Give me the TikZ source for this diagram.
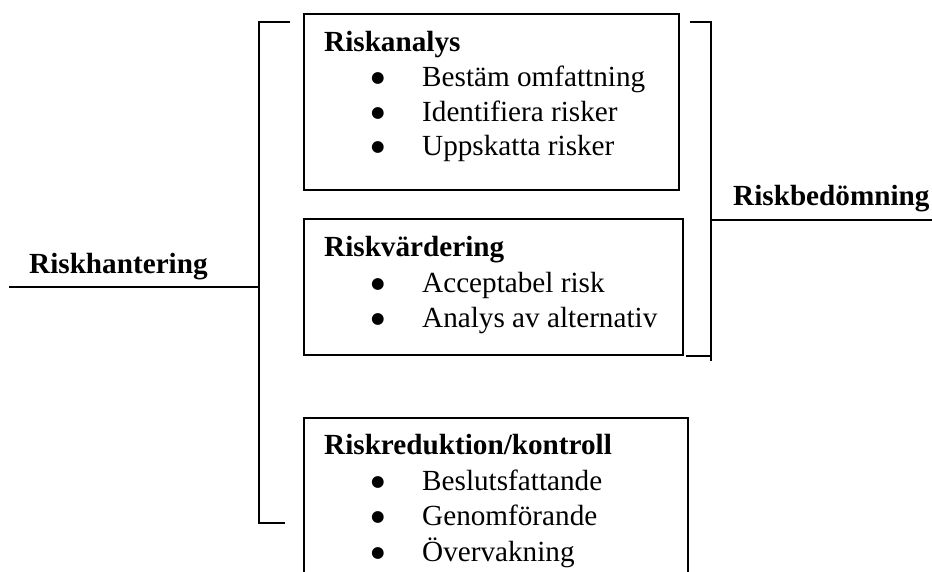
\documentclass[tikz,border=0pt]{standalone}
\usepackage{fontspec}
\setmainfont{Liberation Serif}
\newfontfamily\dotfont{DejaVu Sans}
\begin{document}
\begin{tikzpicture}[x=1pt,y=-1pt]
\tikzset{
  boxstyle/.style={draw, line width=1.6pt, inner sep=0pt, anchor=north west},
  headtxt/.style={anchor=base west, inner sep=0pt, font=\fontsize{29.2}{35}\selectfont\bfseries},
  itemtxt/.style={anchor=base west, inner sep=0pt, font=\fontsize{29.2}{35}\selectfont},
  bul/.style={anchor=base, inner sep=0pt, yshift=3.3pt, font=\dotfont\fontsize{15.5}{17}\selectfont},
  lin/.style={line width=1.6pt}
}
\clip (0,0) rectangle (932,571);
\useasboundingbox (0,0) rectangle (932,571);
% boxes
\node[boxstyle, minimum width=375pt, minimum height=176pt] (b1) at (303,13) {};
\node[boxstyle, minimum width=379pt, minimum height=136pt] (b2) at (303,218) {};
\node[boxstyle, minimum width=384pt, minimum height=180pt] (b3) at (303,417) {};
% box 1 text
\node[headtxt] (h1) at (324,51) {Riskanalys};
\node[bul] (p11) at (378,86) {●};
\node[itemtxt] (t11) at (422,86) {Bestäm omfattning};
\node[bul] (p12) at (378,121) {●};
\node[itemtxt] (t12) at (422,121) {Identifiera risker};
\node[bul] (p13) at (378,155) {●};
\node[itemtxt] (t13) at (422,155) {Uppskatta risker};
% box 2 text
\node[headtxt] (h2) at (324,256) {Riskvärdering};
\node[bul] (p21) at (378,292) {●};
\node[itemtxt] (t21) at (422,292) {Acceptabel risk};
\node[bul] (p22) at (378,327) {●};
\node[itemtxt] (t22) at (422,327) {Analys av alternativ};
% box 3 text
\node[headtxt] (h3) at (324,454) {Riskreduktion/kontroll};
\node[bul] (p31) at (378,490) {●};
\node[itemtxt] (t31) at (422,490) {Beslutsfattande};
\node[bul] (p32) at (378,525) {●};
\node[itemtxt] (t32) at (422,525) {Genomförande};
\node[bul] (p33) at (378,561) {●};
\node[itemtxt] (t33) at (422,561) {Övervakning};
% labels
\node[headtxt] (lh) at (29,273) {Riskhantering};
\node[headtxt] (lr) at (733,205) {Riskbedömning};
% left bracket
\coordinate (lt) at (259,22);
\coordinate (ltt) at (290,22);
\coordinate (lb) at (259,523);
\coordinate (lbb) at (285,523);
\coordinate (lm) at (259,287);
\coordinate (le) at (9,287);
\draw[lin] (ltt) -- (lt) -- (lb) -- (lbb);
\draw[lin] (le) -- (lm);
% right bracket
\coordinate (rt) at (711,22);
\coordinate (rtt) at (690,22);
\coordinate (rb) at (711,361);
\coordinate (rbj) at (711,356);
\coordinate (rbb) at (686,356);
\coordinate (rm) at (711,220);
\coordinate (re) at (932,220);
\draw[lin] (rtt) -- (rt) -- (rb);
\draw[lin] (rbb) -- (rbj);
\draw[lin] (rm) -- (re);
\end{tikzpicture}
\end{document}
